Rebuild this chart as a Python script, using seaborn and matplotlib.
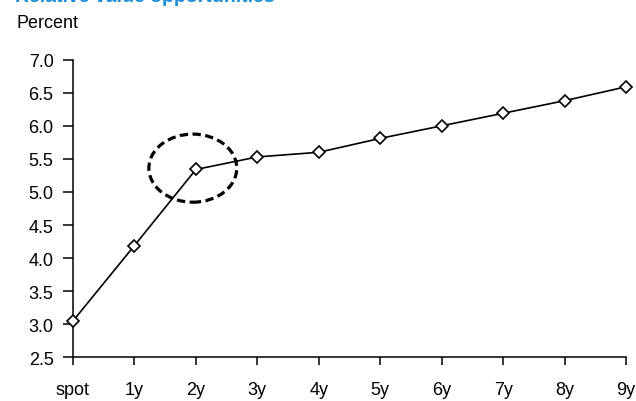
import matplotlib
matplotlib.use("Agg")
import matplotlib.pyplot as plt
from matplotlib.patches import Ellipse
import seaborn as sns
import pandas as pd

# Yield curve by tenor
tenors = ["spot", "1y", "2y", "3y", "4y", "5y", "6y", "7y", "8y", "9y"]
yields = [3.05, 4.19, 5.34, 5.53, 5.60, 5.81, 6.00, 6.19, 6.38, 6.59]
y_ticks = [2.5, 3.0, 3.5, 4.0, 4.5, 5.0, 5.5, 6.0, 6.5, 7.0]

df = pd.DataFrame({"tenor": tenors, "yield": yields})

sns.set_style("ticks")
plt.rcParams["font.family"] = ["Liberation Sans", "DejaVu Sans"]

fig = plt.figure(figsize=(6.36, 4.02), dpi=100)
ax = fig.add_axes([73 / 636, 43.7 / 402, 553 / 636, 297.6 / 402])

sns.lineplot(data=df, x="tenor", y="yield", sort=False, ax=ax,
             color="black", linewidth=1.2, marker="D", markersize=6.3,
             markerfacecolor="white", markeredgecolor="black",
             markeredgewidth=1.2, clip_on=False, zorder=3)

# Highlight the kink at the 2-year point
ax.add_patch(Ellipse((1.95, 5.36), width=1.43, height=1.03, fill=False,
                     edgecolor="black", linewidth=2.3,
                     linestyle=(0, (2.6, 1.4)), zorder=4))

ax.set_xlim(0, 9)
ax.set_ylim(2.5, 7.0)
ax.set_yticks(y_ticks)
ax.set_yticklabels([f"{v:.1f}" for v in y_ticks])
ax.set_xlabel("")
ax.set_ylabel("")

sns.despine(ax=ax)
for side in ("left", "bottom"):
    ax.spines[side].set_linewidth(1.1)
    ax.spines[side].set_color("black")

ax.tick_params(axis="y", length=7, width=1.1, pad=7, labelsize=13,
               colors="black", direction="out")
ax.tick_params(axis="x", length=6, width=1.1, pad=11, labelsize=13,
               colors="black", direction="out")

fig.text(15 / 636, 1 - 2.5 / 402, "Relative value opportunities",
         color="#1a8cd6", fontsize=14, fontweight="bold", va="baseline")
fig.text(16 / 636, 1 - 28 / 402, "Percent", fontsize=13, va="baseline",
         color="black")

fig.savefig("out.png", dpi=100)
